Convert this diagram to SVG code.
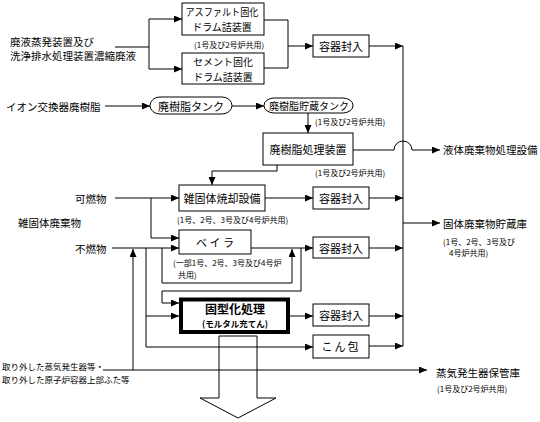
<svg xmlns="http://www.w3.org/2000/svg" width="540" height="422" viewBox="0 0 540 422">
<style>
text{font-family:"Noto Sans CJK JP","Noto Sans CJK SC",sans-serif;fill:#000;dominant-baseline:central}
.n{font-size:10.5px}
.b{font-size:11px;text-anchor:middle}
.b2{font-size:10px;text-anchor:middle}
.s{font-size:8px}
.m{font-size:8.5px}
.box{fill:#fff;stroke:#000;stroke-width:1}
.ln{fill:none;stroke:#000;stroke-width:1}
.ar{fill:none;stroke:#000;stroke-width:1;marker-end:url(#ah)}
</style>
<defs>
<marker id="ah" markerUnits="userSpaceOnUse" markerWidth="8" markerHeight="7" viewBox="0 0 8 7" refX="8" refY="3.5" orient="auto">
<path d="M0,0 L8,3.5 L0,7 z" fill="#000"/>
</marker>
</defs>
<rect width="540" height="422" fill="#fff"/>

<g id="connectors">
<path class="ln" d="M115,47 H149 M149,19 V69"/>
<path class="ar" d="M149,19 H182"/>
<path class="ar" d="M149,69 H182"/>
<path class="ln" d="M264,20 H288 V68 H264"/>
<path class="ar" d="M288,46 H313"/>
<path class="ar" d="M369,46 H403"/>
<path class="ln" d="M403,46 V346"/>
<path class="ar" d="M105,106 H150"/>
<path class="ar" d="M232,106 H264"/>
<path class="ar" d="M308,113 V133"/>
<path class="ar" d="M353,150 H394 A9,9 0 0 1 412,150 H440"/>
<path class="ar" d="M277,165 V171 H212 V185"/>
<path class="ar" d="M115,198 H179"/>
<path class="ar" d="M151,198 V238 H179"/>
<path class="ar" d="M265,198 H313"/>
<path class="ar" d="M369,198 H403"/>
<path class="ar" d="M403,223 H440"/>
<path class="ar" d="M112,248 H179"/>
<path class="ar" d="M251,248 H313"/>
<path class="ar" d="M369,248 H403"/>
<path class="ar" d="M146,248 V347 H313"/>
<path class="ar" d="M146,316 H179"/>
<path class="ar" d="M162,248 V283 H292 V249"/>
<path class="ar" d="M301,248 V291 H162 V303 H179"/>
<path class="ar" d="M290,316 H313"/>
<path class="ar" d="M369,316 H403"/>
<path class="ar" d="M369,346 H403"/>
<path class="ar" d="M103,370 H427"/>
<path class="ar" d="M133,370 V249"/>
</g>

<g id="src-liquid">
<text x="10" y="41" style="font-size:10px" textLength="84" lengthAdjust="spacingAndGlyphs">廃液蒸発装置及び</text>
<text x="10" y="55" style="font-size:10px" textLength="126" lengthAdjust="spacingAndGlyphs">洗浄排水処理装置濃縮廃液</text>
</g>
<g id="asphalt">
<rect class="box" x="182" y="3" width="82" height="32"/>
<text class="b2" x="222" y="11.5" textLength="73" lengthAdjust="spacingAndGlyphs">アスファルト固化</text>
<text class="b2" x="222" y="26.5">ドラム詰装置</text>
<text class="s" x="194" y="44">(1号及び2号炉共用)</text>
</g>
<g id="cement">
<rect class="box" x="182" y="53" width="82" height="31"/>
<text class="b2" x="223" y="61">セメント固化</text>
<text class="b2" x="223" y="76">ドラム詰装置</text>
</g>
<g id="pack1">
<rect class="box" x="313" y="35" width="56" height="22"/>
<text class="b" x="341" y="46">容器封入</text>
</g>
<g id="src-ion">
<text class="n" x="6" y="106">イオン交換器廃樹脂</text>
</g>
<g id="tank1">
<rect class="box" x="150" y="97" width="82" height="17" rx="10" ry="8.5"/>
<text class="b" x="191" y="105.5">廃樹脂タンク</text>
</g>
<g id="tank2">
<rect class="box" x="264" y="98" width="89" height="15" rx="10" ry="7.5"/>
<text class="b2" x="309" y="105.5">廃樹脂貯蔵タンク</text>
<text class="s" x="315" y="121">(1号及び2号炉共用)</text>
</g>
<g id="resin-proc">
<rect class="box" x="263" y="133" width="90" height="32"/>
<text class="b" x="308" y="149">廃樹脂処理装置</text>
<text class="s" x="315" y="172">(1号及び2号炉共用)</text>
</g>
<g id="liquid-dest">
<text class="n" x="443" y="149">液体廃棄物処理設備</text>
</g>
<g id="src-solid">
<text class="n" x="18" y="222">雑固体廃棄物</text>
<text class="n" x="75" y="198">可燃物</text>
<text class="n" x="75" y="248">不燃物</text>
</g>
<g id="incinerator">
<rect class="box" x="179" y="185" width="86" height="26"/>
<text class="b" x="222" y="198">雑固体焼却設備</text>
<text class="s" x="177" y="219">(1号、2号、3号及び4号炉共用)</text>
</g>
<g id="pack2">
<rect class="box" x="313" y="187" width="56" height="22"/>
<text class="b" x="341" y="198">容器封入</text>
</g>
<g id="solid-dest">
<text class="n" x="443" y="223">固体廃棄物貯蔵庫</text>
<text class="s" x="443" y="241">(1号、2号、3号及び</text>
<text class="s" x="449" y="252">4号炉共用)</text>
</g>
<g id="baler">
<rect class="box" x="179" y="230" width="72" height="24"/>
<text class="b" x="215" y="242">ベ イ ラ</text>
<text class="s" x="173" y="262">(一部1号、2号、3号及び4号炉</text>
<text class="s" x="178" y="274">共用)</text>
</g>
<g id="solidify">
<rect x="181" y="299.5" width="107" height="32.5" fill="#fff" stroke="#000" stroke-width="4"/>
<text x="235" y="308" style="font-size:12px;font-weight:bold;text-anchor:middle">固型化処理</text>
<text x="235" y="323" style="font-size:8.5px;font-weight:bold;text-anchor:middle">(モルタル充てん)</text>
</g>
<g id="pack3">
<rect class="box" x="313" y="237" width="56" height="21"/>
<text class="b" x="341" y="248">容器封入</text>
</g>
<g id="pack4">
<rect class="box" x="313" y="304" width="56" height="22"/>
<text class="b" x="341" y="315">容器封入</text>
</g>
<g id="wrap">
<rect class="box" x="313" y="335" width="56" height="23"/>
<text class="b" x="341" y="346" style="letter-spacing:2px">こん包</text>
</g>
<g id="src-sg">
<text class="m" x="2" y="366">取り外した蒸気発生器等・</text>
<text class="m" x="2" y="379">取り外した原子炉容器上部ふた等</text>
</g>
<g id="sg-dest">
<text class="n" x="436" y="372">蒸気発生器保管庫</text>
<text class="s" x="437" y="388">(1号及び2号炉共用)</text>
</g>
<g id="big-arrow">
<polygon points="219,336 257,336 257,398 276,398 238,418 200,398 219,398" fill="none" stroke="#000" stroke-width="1"/>
</g>
</svg>
